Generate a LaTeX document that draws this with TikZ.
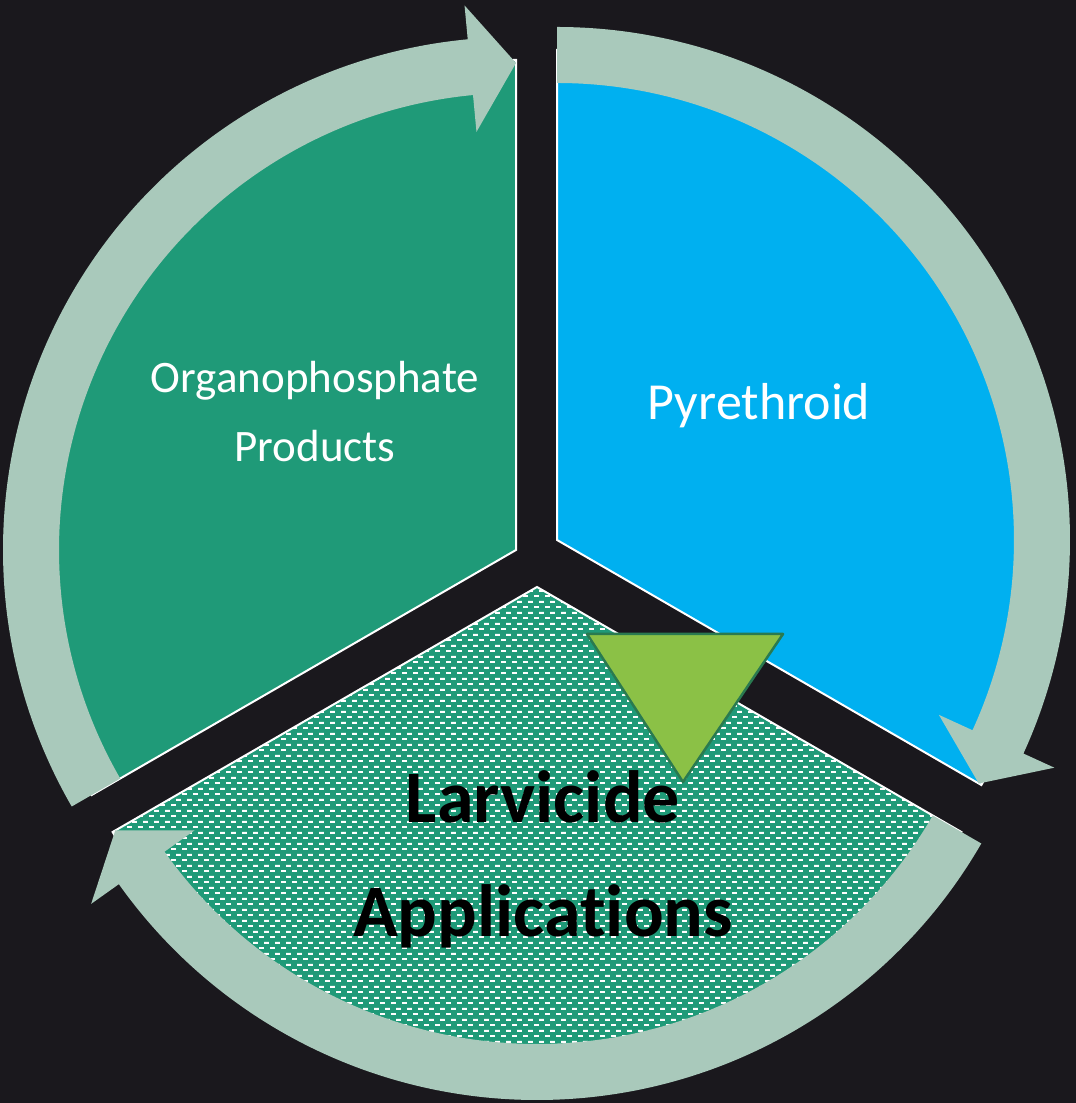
\documentclass[tikz,border=0pt]{standalone}
\usepackage{fontspec}
\setmainfont{Carlito}[Ligatures=NoCommon]
\usetikzlibrary{patterns}
\definecolor{bgdark}{HTML}{1A181D}
\definecolor{ringsage}{HTML}{A9C9BB}
\definecolor{organogreen}{HTML}{1F9A78}
\definecolor{pyreblue}{HTML}{00B0F0}
\definecolor{pointgreen}{HTML}{8BC146}
\definecolor{pointedge}{HTML}{2A7A50}
\pgfdeclarepatternformonly{dashrows}{\pgfpointorigin}{\pgfpoint{10.5pt}{10.6pt}}{\pgfpoint{10.5pt}{10.6pt}}{
  \pgfpathrectangle{\pgfpoint{0pt}{0pt}}{\pgfpoint{5pt}{2pt}}
  \pgfpathrectangle{\pgfpoint{5.25pt}{5.3pt}}{\pgfpoint{5pt}{2pt}}
  \pgfusepath{fill}}
\begin{document}
\begin{tikzpicture}
			[x=1pt,y=1pt,sector/.style={draw=white,line width=2pt},ring/.style={fill=ringsage},
			optext/.style={text=white,align=center,anchor=base}]
			\fill[bgdark] (0,0) rectangle (1076,1103);
			\useasboundingbox (0,0) rectangle (1076,1103);
			\coordinate (organo) at (516,553);
			\coordinate (pyre) at (557,563);
			\coordinate (larvi) at (537,516);
			% the three parts
			\filldraw[sector,fill=organogreen,shift={(organo)}] (0,0) -- (90:490) arc[start angle=90,end angle=210,radius=490pt] -- cycle;
			\filldraw[sector,fill=pyreblue,shift={(pyre)}] (0,0) -- (-30:490) arc[start angle=-30,end angle=90,radius=490pt] -- cycle;
			\filldraw[sector,preaction={fill=organogreen},pattern=dashrows,pattern color=white,shift={(larvi)}] (0,0) -- (210:490) arc[start angle=210,end angle=330,radius=490pt] -- cycle;
			% arrows round the ring
			\fill[ring,shift={(organo)}] (210:513) arc[start angle=210,end angle=95.4,radius=513pt] -- (95.4:547) -- (90:487) -- (95.4:420) -- (95.4:457) arc[start angle=95.4,end angle=210,radius=457pt] -- cycle;
			\fill[ring,shift={(pyre)}] (90:513) arc[start angle=90,end angle=-24.6,radius=513pt] -- (-24.6:547) -- (-30:487) -- (-24.6:420) -- (-24.6:457) arc[start angle=-24.6,end angle=90,radius=457pt] -- cycle;
			\fill[ring,shift={(larvi)}] (-30:513) arc[start angle=-30,end angle=-144.6,radius=513pt] -- (-144.6:547) -- (-150:487) -- (-144.6:420) -- (-144.6:457) arc[start angle=-144.6,end angle=-30,radius=457pt] -- cycle;
			\filldraw[fill=pointgreen,draw=pointedge,line width=2.5pt,line join=round] (587,469) -- (783,469) -- (683,321) -- cycle;
			\node[optext,name=organotext,font=\fontsize{45}{69}\selectfont]at(315,641){Organophosphate\\Products};
			\node[optext,name=pyretext,font=\fontsize{52}{61}\selectfont]at(759,683){Pyrethroid};
			\node[optext,name=larvitext,text=black,font=\fontsize{74}{114}\selectfont\bfseries]at(543,166){Larvicide\\Applications};
		\end{tikzpicture}
\end{document}
